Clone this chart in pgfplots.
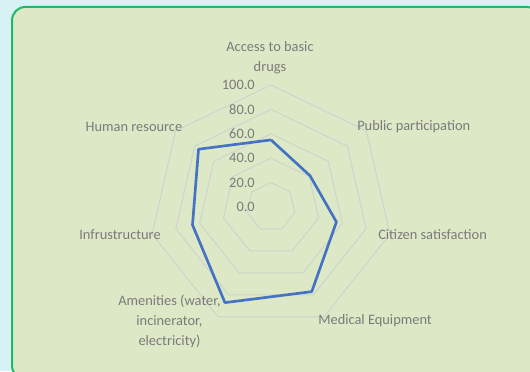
\documentclass[border=0pt]{standalone}
\usepackage{pgfplots}
\pgfplotsset{compat=1.18}
\usepgfplotslibrary{polar}
\usepackage{fontspec}
\setmainfont{Carlito}

\definecolor{bgcyan}{RGB}{214,242,245}
\definecolor{bggreen}{RGB}{221,233,198}
\definecolor{frame}{RGB}{30,185,105}
\definecolor{labelgray}{RGB}{122,122,122}
\definecolor{gridgray}{RGB}{205,212,205}
\definecolor{series}{RGB}{68,114,196}

\begin{document}
\begin{tikzpicture}[x=0.75pt, y=0.75pt, font=\fontsize{10.8}{15}\selectfont]
\useasboundingbox (0,0) rectangle (530,371);
\clip (0,0) rectangle (530,371);
\fill[bgcyan] (0,0) rectangle (530,371);
\draw[frame, fill=bggreen, line width=1.5pt, rounded corners=10pt] (12,-8) rectangle (540,364);

\begin{polaraxis}[
  at={(203.25pt,123pt)}, anchor=origin,
  scale only axis, width=183pt, height=183pt,
  xmin=0, xmax=360, ymin=0, ymax=100,
  hide axis, clip=false,
]
% grid rings
\foreach \r in {20,40,60,80,100}{
  \edef\tmp{\noexpand\addplot[gridgray, line width=0.75pt, no marks] coordinates {
    (90,\r) (38.571,\r) (347.143,\r) (295.714,\r) (244.286,\r) (192.857,\r) (141.429,\r) (90,\r)};}
  \tmp
}
% series
\addplot[series, line width=2pt, no marks, line join=round] coordinates {
  (90,55) (38.571,41) (347.143,55) (295.714,77) (244.286,87) (192.857,66) (141.429,76) (90,55)
};
\end{polaraxis}

% radial tick labels
\begin{scope}[labelgray]
\foreach \v/\y in {100.0/85, 80.0/109.4, 60.0/133.8, 40.0/158.2, 20.0/182.6, 0.0/207}{
  \node[anchor=east, inner sep=0pt] at (255,371-\y) {\v};
}
% category labels
\node[align=center, inner sep=0pt] at (270,371-58) {Access to basic\\drugs};
\node[anchor=west, inner sep=0pt] at (357,371-127) {Public participation};
\node[anchor=west, inner sep=0pt] at (378,371-235) {Citizen satisfaction};
\node[anchor=west, inner sep=0pt] at (318,371-321) {Medical Equipment};
\node[align=center, inner sep=0pt] at (169.5,371-321.5) {Amenities (water,\\incinerator,\\electricity)};
\node[anchor=east, inner sep=0pt] at (161,371-235) {Infrustructure};
\node[anchor=east, inner sep=0pt] at (182.5,371-127) {Human resource};
\end{scope}
\end{tikzpicture}
\end{document}
